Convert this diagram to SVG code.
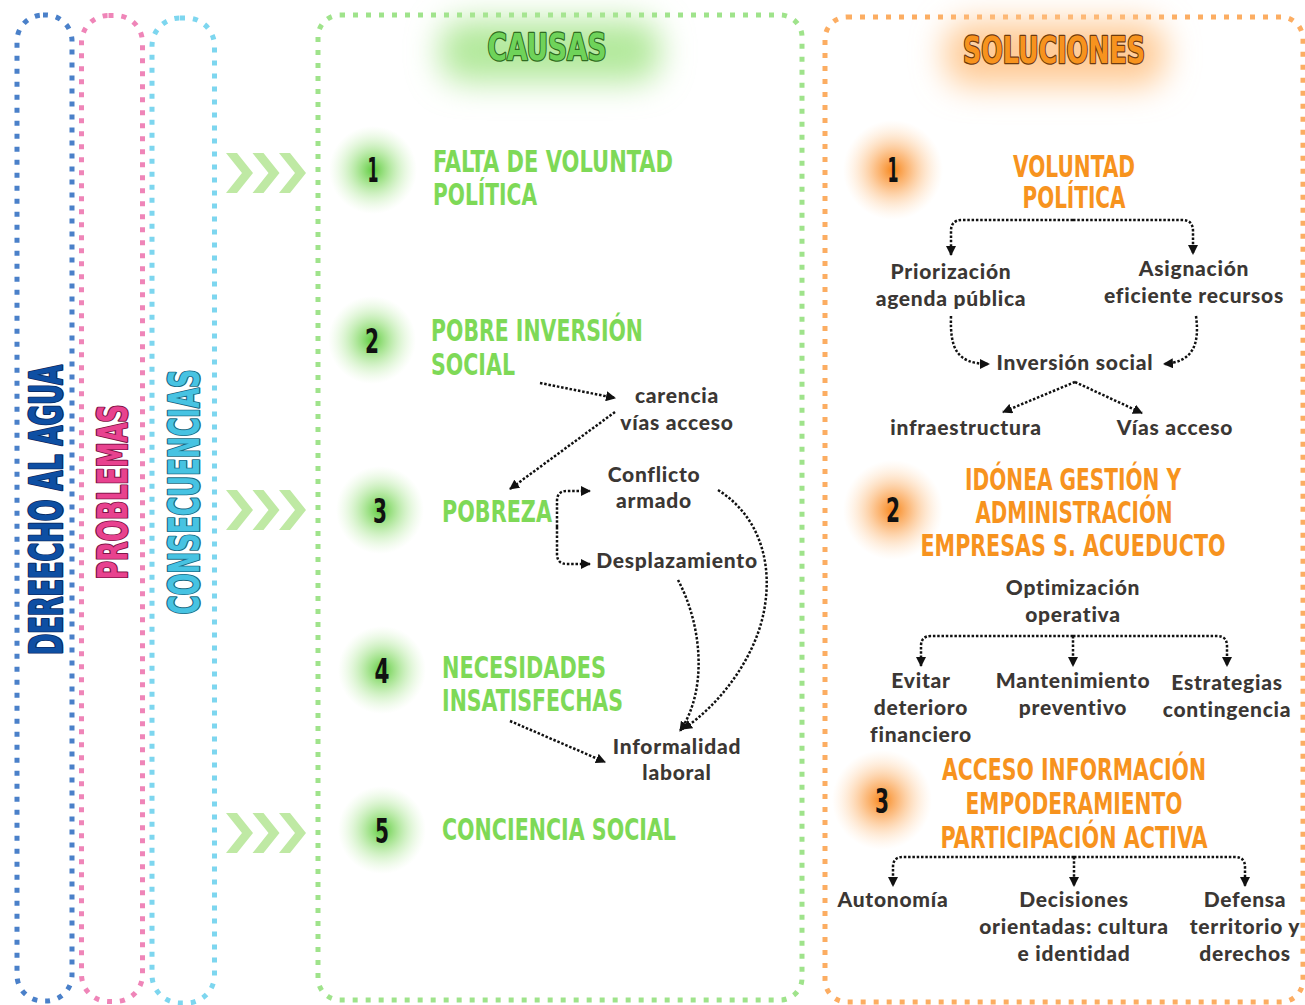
<svg xmlns="http://www.w3.org/2000/svg" width="1305" height="1005" viewBox="0 0 1305 1005">
<defs>
<style>
.box{fill:none;stroke-width:5;stroke-dasharray:5 8}
.chev{fill:#bfe9a4}
.h{font-family:"DejaVu Sans Condensed","DejaVu Sans",sans-serif;font-weight:bold;font-stretch:condensed;font-size:30px}
.g{fill:#7ed957}
.o{fill:#f7931e}
.num{font-family:"DejaVu Sans Condensed","DejaVu Sans",sans-serif;font-weight:bold;font-size:34px;fill:#111;text-anchor:middle}
.t{font-family:Lato,"DejaVu Sans",sans-serif;font-weight:900;font-size:21px;letter-spacing:0.75px;fill:#3b3734;text-anchor:middle}
.vt{font-family:"DejaVu Sans Condensed","DejaVu Sans",sans-serif;font-weight:bold;text-anchor:middle;paint-order:stroke;stroke-width:2.5;stroke-linejoin:round}
.c{fill:none;stroke:#111;stroke-width:2.5;stroke-dasharray:2.5 1.8}
</style>
<radialGradient id="gg">
<stop offset="0" stop-color="#5fcb3f"/>
<stop offset="0.35" stop-color="#8bdc6e" stop-opacity="0.7"/>
<stop offset="1" stop-color="#c9f0b6" stop-opacity="0"/>
</radialGradient>
<radialGradient id="og">
<stop offset="0" stop-color="#f7861a"/>
<stop offset="0.35" stop-color="#fba452" stop-opacity="0.7"/>
<stop offset="1" stop-color="#ffd9b0" stop-opacity="0"/>
</radialGradient>
<filter id="blur" x="-50%" y="-100%" width="200%" height="300%"><feGaussianBlur stdDeviation="16"/></filter>
<marker id="ah" viewBox="0 0 10 10" refX="9" refY="5" markerWidth="4" markerHeight="4" orient="auto" markerUnits="strokeWidth">
<path d="M0,0 L10,5 L0,10 Z" fill="#111"/>
</marker>
<path id="chev" d="M0,0 L11,0 L27,20 L11,40 L0,40 L16,20 Z"/>
</defs>

<g id="frames">
<rect class="box" x="17" y="15" width="55" height="986" rx="26" stroke="#4a80c9"/>
<rect class="box" x="81.5" y="15.5" width="61" height="986" rx="27" stroke="#ef85b8"/>
<rect class="box" x="152" y="18" width="62.5" height="985" rx="28" stroke="#7dd6ef"/>
<rect class="box" x="318" y="15" width="484" height="985" rx="22" stroke="#9fe38b"/>
<rect class="box" x="825" y="17" width="478" height="985" rx="22" stroke="#fcad62"/>
</g>

<g id="vertical-titles">
<text class="vt" font-size="44" fill="#0e4fa3" stroke="#0a2d66" transform="translate(62,510) rotate(-90)" textLength="290" lengthAdjust="spacingAndGlyphs">DEREECHO AL AGUA</text>
<text class="vt" font-size="41" fill="#e8428f" stroke="#7d1548" transform="translate(127,492) rotate(-90)" textLength="175" lengthAdjust="spacingAndGlyphs">PROBLEMAS</text>
<text class="vt" font-size="42" fill="#47c3e2" stroke="#1b6a82" transform="translate(199,492) rotate(-90)" textLength="245" lengthAdjust="spacingAndGlyphs">CONSECUENCIAS</text>
</g>

<g id="chevrons">
<g transform="translate(226,153)"><use href="#chev" class="chev"/><use href="#chev" class="chev" x="26.5"/><use href="#chev" class="chev" x="53"/></g>
<g transform="translate(226,490)"><use href="#chev" class="chev"/><use href="#chev" class="chev" x="26.5"/><use href="#chev" class="chev" x="53"/></g>
<g transform="translate(226,813)"><use href="#chev" class="chev"/><use href="#chev" class="chev" x="26.5"/><use href="#chev" class="chev" x="53"/></g>
</g>

<g id="causas-header">
<rect x="440" y="20" width="220" height="62" rx="24" fill="#b3e99c" filter="url(#blur)"/>
<text class="vt" x="547" y="60" font-size="38" fill="#6fd35a" stroke="#2f6b21" textLength="119" lengthAdjust="spacingAndGlyphs">CAUSAS</text>
</g>

<g id="soluciones-header">
<rect x="945" y="22" width="220" height="64" rx="24" fill="#ffcb96" filter="url(#blur)"/>
<text class="vt" x="1054" y="63" font-size="38" fill="#f7931e" stroke="#6b3a10" textLength="182" lengthAdjust="spacingAndGlyphs">SOLUCIONES</text>
</g>

<g id="causa-1">
<circle cx="373" cy="170" r="44" fill="url(#gg)"/>
<text class="num" x="373" y="182" textLength="11" lengthAdjust="spacingAndGlyphs">1</text>
<text class="h g" x="433" y="172" textLength="240" lengthAdjust="spacingAndGlyphs">FALTA DE VOLUNTAD</text>
<text class="h g" x="433" y="205" textLength="104" lengthAdjust="spacingAndGlyphs">POLÍTICA</text>
</g>
<g id="causa-2">
<circle cx="372" cy="340" r="44" fill="url(#gg)"/>
<text class="num" x="372" y="353" textLength="14" lengthAdjust="spacingAndGlyphs">2</text>
<text class="h g" x="431" y="341" textLength="212" lengthAdjust="spacingAndGlyphs">POBRE INVERSIÓN</text>
<text class="h g" x="431" y="375" textLength="84" lengthAdjust="spacingAndGlyphs">SOCIAL</text>
</g>
<g id="causa-3">
<circle cx="380" cy="510" r="44" fill="url(#gg)"/>
<text class="num" x="380" y="523" textLength="14" lengthAdjust="spacingAndGlyphs">3</text>
<text class="h g" x="442" y="522" textLength="110" lengthAdjust="spacingAndGlyphs">POBREZA</text>
</g>
<g id="causa-4">
<circle cx="382" cy="670" r="44" fill="url(#gg)"/>
<text class="num" x="382" y="683" textLength="15" lengthAdjust="spacingAndGlyphs">4</text>
<text class="h g" x="442" y="678" textLength="164" lengthAdjust="spacingAndGlyphs">NECESIDADES</text>
<text class="h g" x="442" y="711" textLength="181" lengthAdjust="spacingAndGlyphs">INSATISFECHAS</text>
</g>
<g id="causa-5">
<circle cx="382" cy="830" r="44" fill="url(#gg)"/>
<text class="num" x="382" y="843" textLength="14" lengthAdjust="spacingAndGlyphs">5</text>
<text class="h g" x="442" y="840" textLength="234" lengthAdjust="spacingAndGlyphs">CONCIENCIA SOCIAL</text>
</g>

<g id="carencia"><text class="t" x="677" y="403">carencia</text><text class="t" x="677" y="430">vías acceso</text></g>
<g id="conflicto"><text class="t" x="654" y="482">Conflicto</text><text class="t" x="654" y="508">armado</text></g>
<g id="desplazamiento"><text class="t" x="677" y="568">Desplazamiento</text></g>
<g id="informalidad"><text class="t" x="677" y="754">Informalidad</text><text class="t" x="677" y="780">laboral</text></g>

<g id="solucion-1">
<circle cx="893" cy="170" r="50" fill="url(#og)"/>
<text class="num" x="893" y="182" textLength="11" lengthAdjust="spacingAndGlyphs">1</text>
<text class="h o" x="1074" y="177" text-anchor="middle" textLength="122" lengthAdjust="spacingAndGlyphs">VOLUNTAD</text>
<text class="h o" x="1074" y="208" text-anchor="middle" textLength="103" lengthAdjust="spacingAndGlyphs">POLÍTICA</text>
</g>
<g id="priorizacion"><text class="t" x="951" y="279">Priorización</text><text class="t" x="951" y="306">agenda pública</text></g>
<g id="asignacion"><text class="t" x="1194" y="276">Asignación</text><text class="t" x="1194" y="303">eficiente recursos</text></g>
<g id="inversion"><text class="t" x="1075" y="370">Inversión social</text></g>
<g id="infraestructura"><text class="t" x="966" y="435">infraestructura</text></g>
<g id="vias"><text class="t" x="1175" y="435">Vías acceso</text></g>

<g id="solucion-2">
<circle cx="893" cy="510" r="50" fill="url(#og)"/>
<text class="num" x="893" y="522" textLength="14" lengthAdjust="spacingAndGlyphs">2</text>
<text class="h o" x="1073" y="490" text-anchor="middle" textLength="216" lengthAdjust="spacingAndGlyphs">IDÓNEA GESTIÓN Y</text>
<text class="h o" x="1074" y="523" text-anchor="middle" textLength="197" lengthAdjust="spacingAndGlyphs">ADMINISTRACIÓN</text>
<text class="h o" x="1073" y="556" text-anchor="middle" textLength="305" lengthAdjust="spacingAndGlyphs">EMPRESAS S. ACUEDUCTO</text>
</g>
<g id="optimizacion"><text class="t" x="1073" y="595">Optimización</text><text class="t" x="1073" y="622">operativa</text></g>
<g id="evitar"><text class="t" x="921" y="688">Evitar</text><text class="t" x="921" y="715">deterioro</text><text class="t" x="921" y="742">financiero</text></g>
<g id="mantenimiento"><text class="t" x="1073" y="688">Mantenimiento</text><text class="t" x="1073" y="715">preventivo</text></g>
<g id="estrategias"><text class="t" x="1227" y="690">Estrategias</text><text class="t" x="1227" y="717">contingencia</text></g>

<g id="solucion-3">
<circle cx="882" cy="800" r="50" fill="url(#og)"/>
<text class="num" x="882" y="813" textLength="14" lengthAdjust="spacingAndGlyphs">3</text>
<text class="h o" x="1074" y="780" text-anchor="middle" textLength="264" lengthAdjust="spacingAndGlyphs">ACCESO INFORMACIÓN</text>
<text class="h o" x="1074" y="814" text-anchor="middle" textLength="217" lengthAdjust="spacingAndGlyphs">EMPODERAMIENTO</text>
<text class="h o" x="1074" y="848" text-anchor="middle" textLength="267" lengthAdjust="spacingAndGlyphs">PARTICIPACIÓN ACTIVA</text>
</g>
<g id="autonomia"><text class="t" x="893" y="907">Autonomía</text></g>
<g id="decisiones"><text class="t" x="1074" y="907">Decisiones</text><text class="t" x="1074" y="934">orientadas: cultura</text><text class="t" x="1074" y="961">e identidad</text></g>
<g id="defensa"><text class="t" x="1245" y="907">Defensa</text><text class="t" x="1245" y="934">territorio y</text><text class="t" x="1245" y="961">derechos</text></g>

<g id="connectors">
<path class="c" d="M540,383 L615,398" marker-end="url(#ah)"/>
<path class="c" d="M615,412 L510,489" marker-end="url(#ah)"/>
<path class="c" d="M557,527 V501 Q557,491 567,491 H590" marker-end="url(#ah)"/>
<path class="c" d="M557,527 V554 Q557,564 567,564 H590" marker-end="url(#ah)"/>
<path class="c" d="M678,580 C702,625 708,690 680,731" marker-end="url(#ah)"/>
<path class="c" d="M718,490 C758,515 772,560 765,605 C758,655 720,705 683,729" marker-end="url(#ah)"/>
<path class="c" d="M510,721 L605,762" marker-end="url(#ah)"/>

<path class="c" d="M1073,220 H962 Q951,220 951,231 V255" marker-end="url(#ah)"/>
<path class="c" d="M1073,220 H1182 Q1193,220 1193,231 V254" marker-end="url(#ah)"/>
<path class="c" d="M951,316 C950,348 956,364 989,364" marker-end="url(#ah)"/>
<path class="c" d="M1196,316 C1200,346 1192,362 1164,364" marker-end="url(#ah)"/>
<path class="c" d="M1075,382 L1003,412" marker-end="url(#ah)"/>
<path class="c" d="M1075,382 L1142,413" marker-end="url(#ah)"/>

<path class="c" d="M1073,636 H931 Q921,636 921,646 V666" marker-end="url(#ah)"/>
<path class="c" d="M1073,636 V666" marker-end="url(#ah)"/>
<path class="c" d="M1073,636 H1217 Q1227,636 1227,646 V666" marker-end="url(#ah)"/>

<path class="c" d="M1074,857 H903 Q893,857 893,867 V886" marker-end="url(#ah)"/>
<path class="c" d="M1074,857 V886" marker-end="url(#ah)"/>
<path class="c" d="M1074,857 H1235 Q1245,857 1245,867 V886" marker-end="url(#ah)"/>
</g>
</svg>
